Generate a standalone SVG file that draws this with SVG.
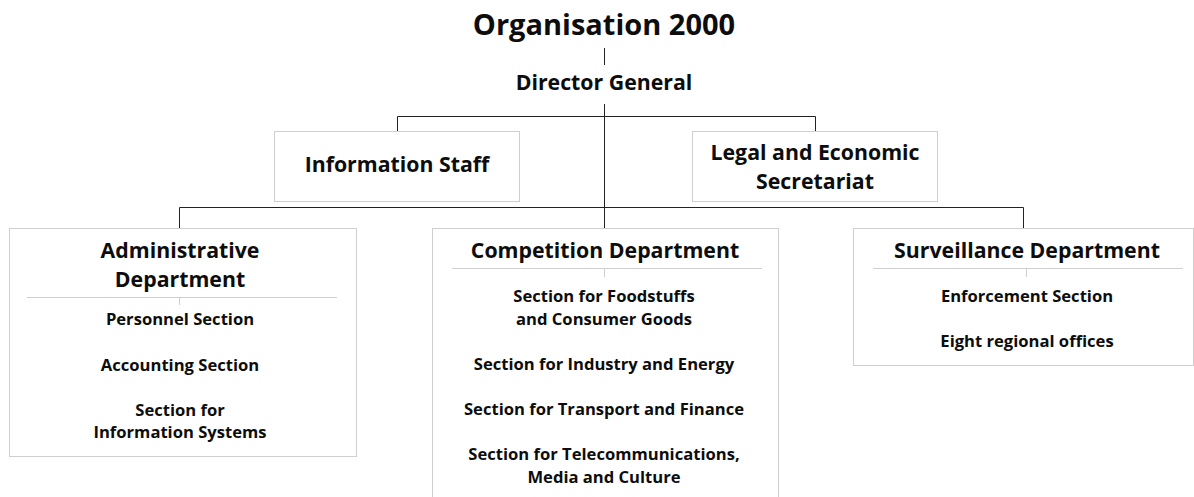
<svg xmlns="http://www.w3.org/2000/svg" width="1194" height="497" viewBox="0 0 1194 497">
  <style>
    text { font-family: "Open Sans", "Liberation Sans", sans-serif; font-weight: bold; fill: #0d0d0d; text-anchor: middle; }
    .title { font-size: 29px; }
    .head { font-size: 21.3px; }
    .sec { font-size: 16.6px; }
    .box { fill: #fff; stroke: #cfcfcf; stroke-width: 1; }
    .rule { stroke: #cfcfcf; stroke-width: 1; fill: none; }
    .conn { stroke: #222; stroke-width: 1; fill: none; }
  </style>
  <rect width="1194" height="497" fill="#fff"/>

  <!-- connectors -->
  <g id="connectors">
    <line class="conn" x1="604.5" y1="48" x2="604.5" y2="65"/>
    <line class="conn" x1="604.5" y1="104" x2="604.5" y2="228"/>
    <polyline class="conn" points="397.5,131 397.5,116.5 815.5,116.5 815.5,131"/>
    <polyline class="conn" points="179.5,228 179.5,207.5 1023.5,207.5 1023.5,228"/>
  </g>

  <g id="top">
    <text class="title" x="604" y="35">Organisation 2000</text>
  </g>

  <g id="director-general">
    <text class="head" x="604" y="90">Director General</text>
  </g>

  <g id="information-staff">
    <rect class="box" x="274.5" y="131.5" width="245" height="70"/>
    <text class="head" x="397" y="172">Information Staff</text>
  </g>

  <g id="legal-economic-secretariat">
    <rect class="box" x="692.5" y="131.5" width="245" height="70"/>
    <text class="head" x="815" y="160">Legal and Economic</text>
    <text class="head" x="815" y="189">Secretariat</text>
  </g>

  <g id="administrative-department">
    <rect class="box" x="9.5" y="228.5" width="347" height="228"/>
    <text class="head" x="180" y="258">Administrative</text>
    <text class="head" x="180" y="287">Department</text>
    <line class="rule" x1="27" y1="297.5" x2="337" y2="297.5"/>
    <line class="rule" x1="179.5" y1="297" x2="179.5" y2="305"/>
    <text class="sec" x="180" y="325">Personnel Section</text>
    <text class="sec" x="180" y="371">Accounting Section</text>
    <text class="sec" x="180" y="416">Section for</text>
    <text class="sec" x="180" y="438">Information Systems</text>
  </g>

  <g id="competition-department">
    <rect class="box" x="432.5" y="228.5" width="346" height="280"/>
    <text class="head" x="605" y="258">Competition Department</text>
    <line class="rule" x1="452" y1="268.5" x2="762" y2="268.5"/>
    <line class="rule" x1="604.5" y1="268" x2="604.5" y2="277"/>
    <text class="sec" x="604" y="302">Section for Foodstuffs</text>
    <text class="sec" x="604" y="325">and Consumer Goods</text>
    <text class="sec" x="604" y="370">Section for Industry and Energy</text>
    <text class="sec" x="604" y="415">Section for Transport and Finance</text>
    <text class="sec" x="604" y="460">Section for Telecommunications,</text>
    <text class="sec" x="604" y="483">Media and Culture</text>
  </g>

  <g id="surveillance-department">
    <rect class="box" x="853.5" y="228.5" width="340" height="137"/>
    <text class="head" x="1027" y="258">Surveillance Department</text>
    <line class="rule" x1="873" y1="268.5" x2="1183" y2="268.5"/>
    <line class="rule" x1="1026.5" y1="268" x2="1026.5" y2="277"/>
    <text class="sec" x="1027" y="302">Enforcement Section</text>
    <text class="sec" x="1027" y="347">Eight regional offices</text>
  </g>
</svg>
